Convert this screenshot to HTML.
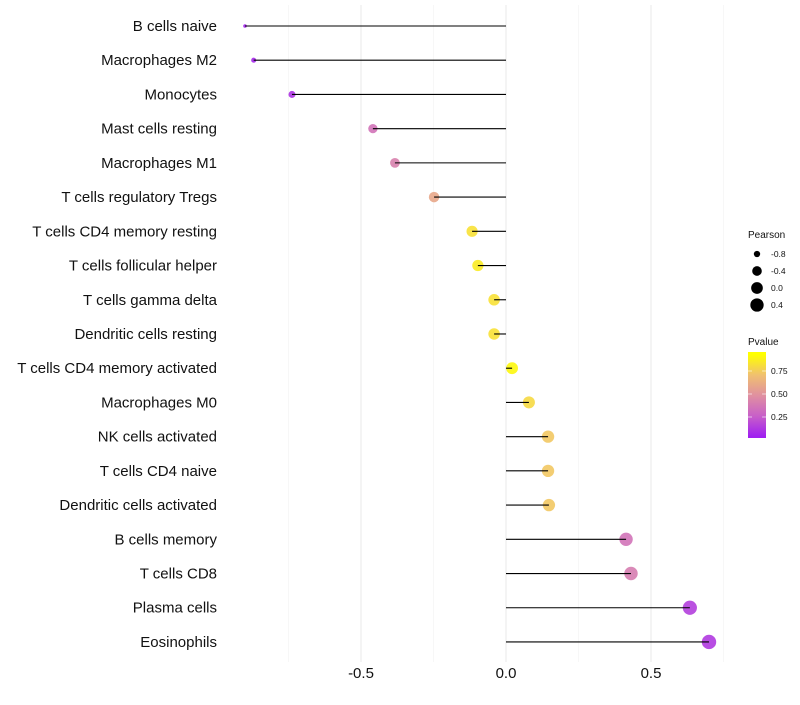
<!DOCTYPE html>
<html><head><meta charset="utf-8"><style>
body{margin:0;background:#fff;font-family:"Liberation Sans",sans-serif}
</style></head><body>
<svg id="c" width="800" height="700" xmlns="http://www.w3.org/2000/svg"></svg>
<script>
const categories=["B cells naive","Macrophages M2","Monocytes","Mast cells resting","Macrophages M1","T cells regulatory  Tregs","T cells CD4 memory resting","T cells follicular helper","T cells gamma delta","Dendritic cells resting","T cells CD4 memory activated","Macrophages M0","NK cells activated","T cells CD4 naive","Dendritic cells activated","B cells memory","T cells CD8","Plasma cells","Eosinophils"];
const pearson=[-0.90,-0.87,-0.738,-0.459,-0.383,-0.248,-0.117,-0.097,-0.041,-0.041,0.021,0.079,0.145,0.145,0.148,0.414,0.431,0.634,0.70];
const pvalues=[0.02,0.03,0.08,0.35,0.42,0.62,0.88,0.92,0.88,0.88,0.97,0.85,0.78,0.78,0.78,0.35,0.4,0.12,0.1];
const xTicks=[-0.5,0,0.5];
const xTickLabels=["-0.5","0.0","0.5"];
const xMinor=[-0.75,-0.25,0.25,0.75];
const sizeLegend=[-0.8,-0.4,0.0,0.4];
const colorTicks=[0.25,0.5,0.75];

const svg=document.getElementById('c');
const NS="http://www.w3.org/2000/svg";
function mk(t,a,p){const e=document.createElementNS(NS,t);for(const k in a)e.setAttribute(k,a[k]);(p||svg).appendChild(e);return e;}
const x=v=>506+v*290;
const y=i=>26+i*34.22;
const rad=v=>1.8+5.4*Math.sqrt(Math.max(0,(v+0.9)/1.6));
const stops=[[0,[160,32,240]],[0.25,[200,96,200]],[0.5,[224,144,160]],[0.75,[240,192,112]],[1,[255,255,0]]];
function col(p){for(let i=1;i<stops.length;i++){if(p<=stops[i][0]){const a=stops[i-1],b=stops[i],t=(p-a[0])/(b[0]-a[0]);return 'rgb('+a[1].map((c,k)=>Math.round(c+(b[1][k]-c)*t)).join(',')+')';}}return 'rgb(255,255,0)';}

xMinor.forEach(v=>{const l=mk('line',{x1:x(v),x2:x(v),y1:5,y2:662,stroke:'#f2f2f2','stroke-width':0.6});

});
xTicks.forEach((v,i)=>{const l=mk('line',{x1:x(v),x2:x(v),y1:5,y2:662,stroke:'#ebebeb','stroke-width':1.1});


const t=mk('text',{x:x(v),y:678,'text-anchor':'middle','font-size':15,fill:'#111'});t.textContent=xTickLabels[i];

});

categories.forEach((c,i)=>{
 const t=mk('text',{x:217,y:y(i)+5,'text-anchor':'end','font-size':15,fill:'#111'});t.textContent=c;
 
 
 const d=mk('circle',{cx:x(pearson[i]),cy:y(i),r:rad(pearson[i]),fill:col(pvalues[i]),'fill-opacity':0.9});
 
 
 const l=mk('line',{x1:x(0),x2:x(pearson[i]),y1:y(i),y2:y(i),stroke:'#000','stroke-width':1.1});
 
 
});

const g=mk('g',{});


let t=mk('text',{x:748,y:238,'font-size':10,fill:'#111'},g);t.textContent='Pearson';
sizeLegend.forEach((v,i)=>{const cy=254+i*17;
 const c=mk('circle',{cx:757,cy:cy,r:rad(v),fill:'#000'},g);
 
 
 const tt=mk('text',{x:771,y:cy+3,'font-size':8.5,fill:'#111'},g);tt.textContent=v.toFixed(1);});
t=mk('text',{x:748,y:345,'font-size':10,fill:'#111'},g);t.textContent='Pvalue';
const defs=mk('defs',{});const lg=mk('linearGradient',{id:'pg',x1:0,y1:1,x2:0,y2:0},defs);
stops.forEach(s=>mk('stop',{offset:(0.02+s[0]*0.95)*100+'%','stop-color':col(s[0])},lg));
const bar=mk('rect',{x:748,y:352,width:18,height:86,fill:'url(#pg)'},g);


colorTicks.forEach(v=>{const cy=440-v*92;
 mk('line',{x1:748,x2:752,y1:cy,y2:cy,stroke:'#fff','stroke-width':0.6},g);
 mk('line',{x1:762,x2:766,y1:cy,y2:cy,stroke:'#fff','stroke-width':0.6},g);
 const tt=mk('text',{x:771,y:cy+3,'font-size':8.5,fill:'#111'},g);tt.textContent=v.toFixed(2);});
</script>
</body></html>
